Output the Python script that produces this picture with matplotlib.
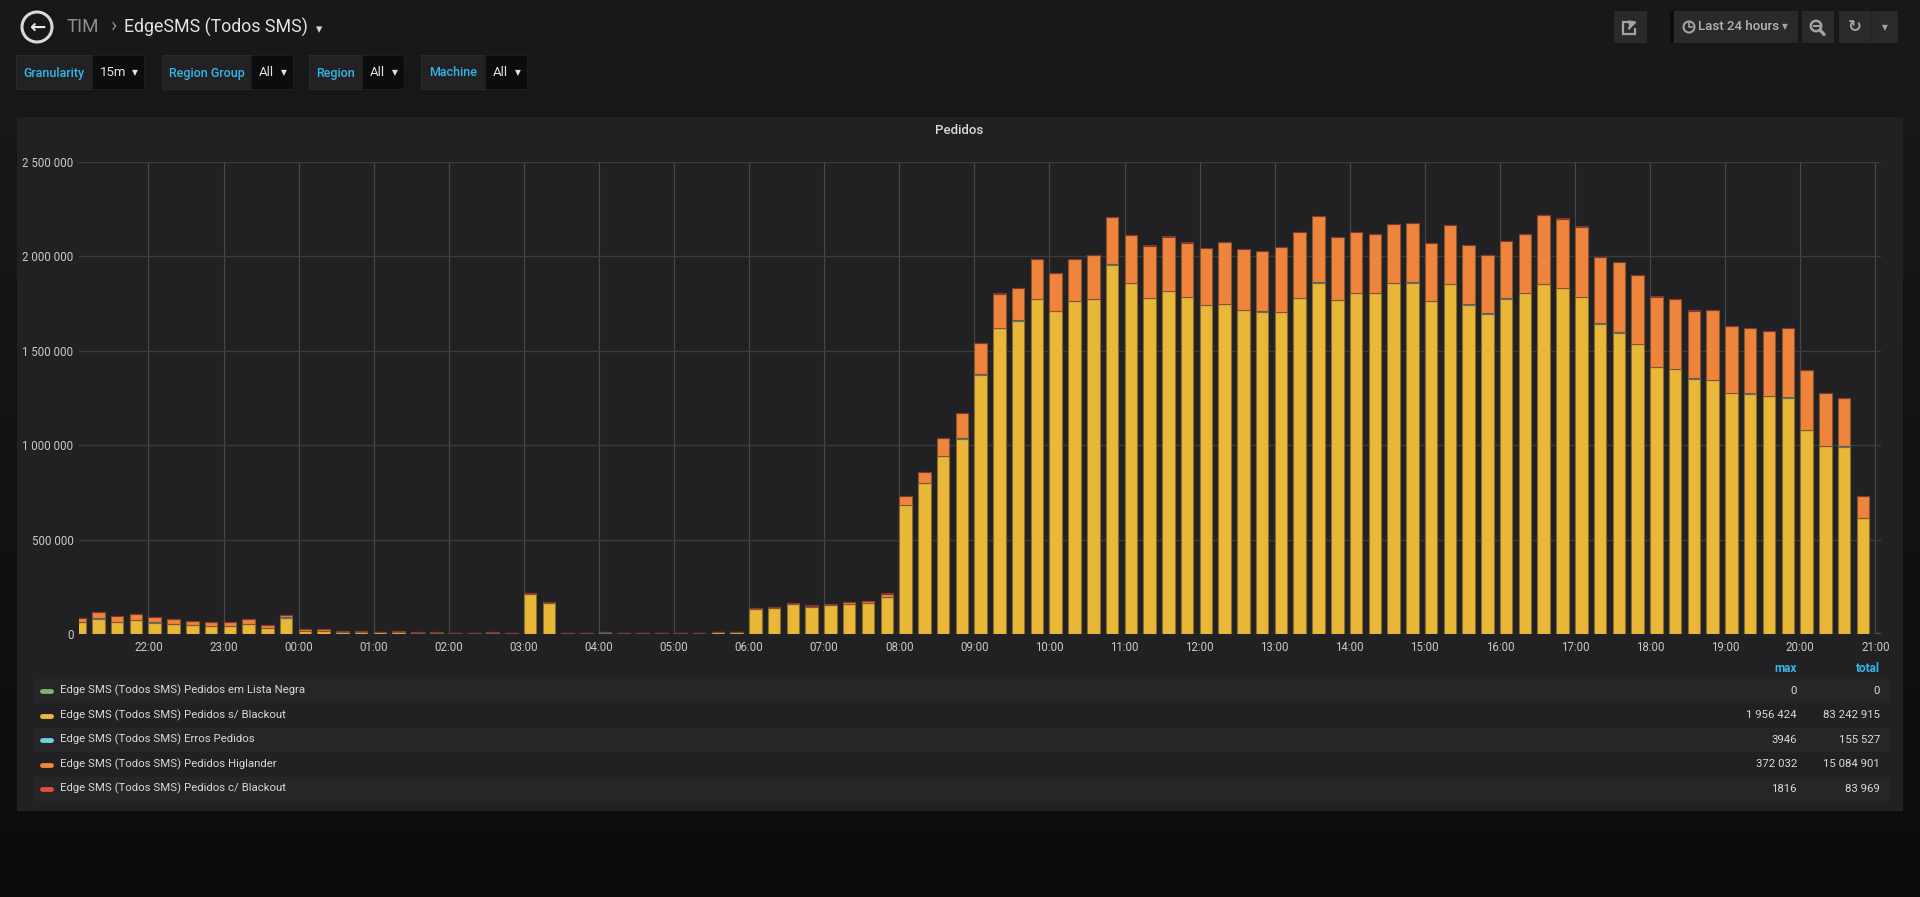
import matplotlib
matplotlib.use('Agg')
import matplotlib.pyplot as plt
import matplotlib.dates as mdates
from matplotlib.patches import Rectangle, Circle
import numpy as np
import pandas as pd

# ---------------- data ----------------
start_time = '2018-03-14 21:00'
n_bars = 97  # 15m buckets from 21:00 to 21:00 next day

s_blackout = [  # Edge SMS (Todos SMS) Pedidos s/ Blackout
    63500, 83000, 65000, 76000, 62000, 56000, 49000, 44000, 44000, 55000, 33500, 88000,
    17600, 17600, 12000, 14000, 12000, 14000, 9000, 9000, 7000, 7000, 9000, 8000,
    213000, 167600, 5300, 5300, 10000, 8800, 7000, 7000, 7000, 8800, 10600, 12300,
    136000, 138000, 159000, 143000, 153000, 159000, 166000, 199000,
    686000, 801000, 943000, 1036000, 1375000, 1621000, 1660000, 1775000,
    1711000, 1764000, 1773000, 1956424, 1858000, 1778000, 1815000, 1783000,
    1743000, 1748000, 1716000, 1708000, 1706000, 1778000, 1860000, 1769000,
    1806000, 1806000, 1858000, 1860000, 1764000, 1854000, 1745000, 1697000,
    1775000, 1806000, 1854000, 1831000, 1785000, 1644000, 1596000, 1536000,
    1413000, 1402000, 1354000, 1345000, 1278000, 1273000, 1259000, 1252000,
    1082000, 997000, 994000, 616000, 5000]

erros = [  # Edge SMS (Todos SMS) Erros Pedidos
    1200, 1500, 1300, 1400, 1200, 1100, 1000, 900, 900, 1100, 700, 1600,
    300, 300, 200, 200, 200, 200, 150, 150, 150, 150, 150, 150,
    400, 350, 100, 100, 150, 150, 100, 100, 100, 150, 150, 200,
    800, 900, 1000, 900, 1000, 1000, 1100, 1300,
    900, 1100, 1300, 1500, 1900, 2300, 2400, 2600,
    2500, 2600, 2700, 3946, 2800, 2700, 2800, 2700,
    2700, 2800, 2700, 2700, 2700, 2800, 2900, 2800,
    2800, 2800, 2900, 2900, 2700, 2900, 2700, 2600,
    2700, 2800, 2900, 2900, 2800, 2600, 2500, 2400,
    2200, 2200, 2100, 2100, 2000, 2000, 1900, 1900,
    1700, 1500, 1500, 900, 20]

higlander = [  # Edge SMS (Todos SMS) Pedidos Higlander
    21000, 33000, 28500, 30000, 28000, 23000, 23000, 19500, 19500, 24000, 17500, 12000,
    10400, 8900, 7000, 2000, 2000, 2000, 1600, 1600, 2000, 1500, 1600, 1000,
    4000, 3400, 300, 300, 600, 500, 400, 400, 400, 500, 600, 700,
    3000, 7000, 7000, 9000, 9000, 9000, 10000, 16000,
    43000, 55000, 97000, 134000, 166000, 180000, 171000, 208000,
    200000, 219000, 230000, 247000, 252000, 276000, 287000, 287000,
    298000, 325000, 320000, 318000, 339000, 347000, 349000, 331000,
    320000, 308000, 309000, 314000, 304000, 308000, 311000, 306000,
    302000, 308000, 362000, 366000, 370000, 350000, 370000, 361000,
    372032, 371000, 357000, 369000, 350000, 346000, 344000, 365000,
    315000, 279000, 254000, 116000, 2000]

c_blackout = [  # Edge SMS (Todos SMS) Pedidos c/ Blackout
    300, 300, 300, 300, 300, 300, 300, 300, 300, 300, 300, 300,
    100, 100, 100, 100, 100, 100, 100, 100, 100, 100, 100, 100,
    100, 100, 100, 100, 100, 100, 100, 100, 100, 100, 100, 100,
    400, 450, 500, 450, 500, 500, 550, 650,
    300, 400, 500, 600, 800, 1000, 1100, 1200,
    1200, 1300, 1300, 1500, 1500, 1500, 1600, 1600,
    1600, 1700, 1700, 1700, 1700, 1750, 1816, 1750,
    1700, 1700, 1750, 1750, 1700, 1750, 1700, 1650,
    1700, 1700, 1800, 1800, 1750, 1650, 1600, 1550,
    1400, 1400, 1350, 1350, 1300, 1300, 1250, 1250,
    1100, 1000, 1000, 600, 10]

lista_negra = [0] * n_bars  # Edge SMS (Todos SMS) Pedidos em Lista Negra

legend_names = [
    'Edge SMS (Todos SMS) Pedidos em Lista Negra',
    'Edge SMS (Todos SMS) Pedidos s/ Blackout',
    'Edge SMS (Todos SMS) Erros Pedidos',
    'Edge SMS (Todos SMS) Pedidos Higlander',
    'Edge SMS (Todos SMS) Pedidos c/ Blackout',
]
legend_colors = ['#7EB26D', '#EAB839', '#6ED0E0', '#EF843C', '#E24D42']
legend_max = ['0', '1 956 424', '3946', '372 032', '1816']
legend_total = ['0', '83 242 915', '155 527', '15 084 901', '83 969']
y_ticks = [0, 500000, 1000000, 1500000, 2000000, 2500000]

# ---------------- figure ----------------
W, H = 1920, 897
fig = plt.figure(figsize=(W / 100, H / 100), dpi=100)
FONT = ['Roboto', 'DejaVu Sans']
plt.rcParams['font.family'] = FONT

bg = fig.add_axes([0, 0, 1, 1])
bg.set_xlim(0, W)
bg.set_ylim(H, 0)
bg.axis('off')
top_c = np.array([24, 25, 27]) / 255
bot_c = np.array([11, 12, 14]) / 255
t = np.linspace(0, 1, 256)[:, None]
grad = (top_c[None, :] * (1 - t) + bot_c[None, :] * t)[:, None, :]
bg.imshow(grad, extent=[0, W, H, 0], aspect='auto', zorder=0)


def rect(x0, y0, x1, y1, fc, ec='none', lw=0, z=1):
    bg.add_patch(Rectangle((x0, y0), x1 - x0, y1 - y0, facecolor=fc,
                           edgecolor=ec, linewidth=lw, zorder=z))


# header: back button and breadcrumb
bg.add_patch(Circle((37, 27), 15, facecolor='none', edgecolor='#d8d9da', lw=2.2, zorder=2))
bg.text(37, 27.5, '←', ha='center', va='center', fontsize=14, fontweight='bold',
        color='#e8e8e8', family=['DejaVu Sans'], zorder=3)
bg.text(67, 27, 'TIM', ha='left', va='center', fontsize=13.5, color='#8e8e8e', zorder=3)
bg.text(110, 26, '›', ha='left', va='center', fontsize=15, color='#8e8e8e', zorder=3)
bg.text(124, 27, 'EdgeSMS (Todos SMS)', ha='left', va='center', fontsize=12.8,
        color='#e3e3e3', zorder=3)
bg.text(319, 30, '▾', ha='center', va='center', fontsize=9, color='#d8d9da',
        family=['DejaVu Sans'], zorder=3)

# variable selectors
vars_ = [
    ('Granularity', '15m', 16, 92, 144),
    ('Region Group', 'All', 162, 251, 293),
    ('Region', 'All', 309, 362, 404),
    ('Machine', 'All', 421, 485, 527),
]
for lab, val, x0, xm, x1 in vars_:
    rect(x0, 55, xm, 89, '#222225', ec='#2a2a2d', lw=0.8, z=1)
    rect(xm, 55, x1, 89, '#0b0c0e', ec='#1d1d20', lw=0.8, z=1)
    bg.text((x0 + xm) / 2, 73, lab, ha='center', va='center', fontsize=9,
            fontweight='medium', color='#33b5e5', zorder=3)
    bg.text(xm + 8, 73, val, ha='left', va='center', fontsize=9.5,
            color='#e3e3e3', zorder=3)
    bg.text(x1 - 9, 73, '▼', ha='center', va='center', fontsize=5.5,
            color='#e3e3e3', family=['DejaVu Sans'], zorder=3)

# top right buttons
btn = '#2a2a2c'
icon = '#a3a3a3'
rect(1614, 11, 1647, 43, btn, z=1)
bg.add_patch(Rectangle((1623, 22), 12, 12, facecolor='none', edgecolor=icon, lw=1.6, zorder=3))
rect(1629, 18, 1641, 28, btn, z=3)
bg.annotate('', xy=(1640, 21), xytext=(1628, 31),
            arrowprops=dict(arrowstyle='-|>', color=icon, lw=1.8,
                            connectionstyle='arc3,rad=-0.3', mutation_scale=9), zorder=4)

rect(1670, 11, 1674, 43, '#0b0c0e', z=1)
rect(1674, 11, 1798, 43, btn, z=1)
bg.add_patch(Circle((1689, 27), 5.5, facecolor='none', edgecolor=icon, lw=1.5, zorder=3))
bg.plot([1689, 1689, 1692], [23.5, 27, 27], color=icon, lw=1.2, zorder=3)
bg.text(1698, 27, 'Last 24 hours', ha='left', va='center', fontsize=9.5,
        fontweight='medium', color='#b3b4b5', zorder=3)
bg.text(1785, 27, '▼', ha='center', va='center', fontsize=5.5, color=icon,
        family=['DejaVu Sans'], zorder=3)

rect(1802, 11, 1834, 43, btn, z=1)
bg.add_patch(Circle((1816, 26), 5.2, facecolor='none', edgecolor=icon, lw=1.8, zorder=3))
bg.plot([1813.5, 1818.5], [26, 26], color=icon, lw=1.5, zorder=3)
bg.plot([1820, 1824], [30, 34.5], color=icon, lw=2.4, solid_capstyle='round', zorder=3)

rect(1839, 11, 1898, 43, btn, z=1)
bg.plot([1871, 1871], [11, 43], color='#232325', lw=1, zorder=2)
bg.text(1855, 27, '↻', ha='center', va='center', fontsize=12, fontweight='bold',
        color=icon, family=['DejaVu Sans'], zorder=3)
bg.text(1885, 28, '▼', ha='center', va='center', fontsize=5.5, color=icon,
        family=['DejaVu Sans'], zorder=3)

# panel
rect(17, 117, 1903, 811, '#212124', z=1)
bg.text(959, 130, 'Pedidos', ha='center', va='center', fontsize=9.5,
        fontweight='medium', color='#d8d9da', zorder=3)

# legend
bg.text(1797, 668.5, 'max', ha='right', va='center', fontsize=8.5,
        fontweight='bold', color='#33b5e5', zorder=3)
bg.text(1880, 668.5, 'total', ha='right', va='center', fontsize=8.5,
        fontweight='bold', color='#33b5e5', zorder=3)
for i, (nm, col, mx, tot) in enumerate(zip(legend_names, legend_colors, legend_max, legend_total)):
    y = 690.6 + i * 24.5
    if i % 2 == 0:
        rect(33, y - 12, 1890, y + 12, '#262629', z=1)
    bg.plot([42, 51], [y + 0.5, y + 0.5], color=col, lw=3.5,
            solid_capstyle='round', zorder=3)
    bg.text(60, y, nm, ha='left', va='center', fontsize=8.2, color='#d8d9da', zorder=3)
    bg.text(1797, y, mx, ha='right', va='center', fontsize=8.2, color='#d8d9da', zorder=3)
    bg.text(1880, y, tot, ha='right', va='center', fontsize=8.2, color='#d8d9da', zorder=3)

# ---------------- chart ----------------
ax_l, ax_r, ax_t, ax_b = 79, 1881, 162, 634.4
ax = fig.add_axes([ax_l / W, 1 - ax_b / H, (ax_r - ax_l) / W, (ax_b - ax_t) / H])
ax.set_facecolor('none')
ax.patch.set_alpha(0)

times = pd.date_range(start_time, periods=n_bars, freq='15min')
x = mdates.date2num(times.to_pydatetime())
bar_w = 10.0 / 1440.0  # grafana bar = interval / 1.5


def edge_of(c):
    c = np.array(matplotlib.colors.to_rgb(c))
    b = np.array([33, 33, 36]) / 255
    return tuple(c * 0.5 + b * 0.5)


series = [lista_negra, s_blackout, erros, higlander, c_blackout]
bottom = np.zeros(n_bars)
for vals, col in zip(series, legend_colors):
    v = np.array(vals, dtype=float)
    ax.bar(x, v, width=bar_w, bottom=bottom, align='edge', color=col,
           edgecolor=edge_of(col), linewidth=0.8, zorder=3)
    bottom = bottom + v

x0 = mdates.date2num(pd.Timestamp(start_time) + pd.Timedelta(minutes=4.5))
x1 = mdates.date2num(pd.Timestamp(start_time) + pd.Timedelta(hours=24, minutes=4.5))
ax.set_xlim(x0, x1)
ax.set_ylim(0, 2500000)
ax.set_yticks(y_ticks)
ax.set_yticklabels([f'{v:,}'.replace(',', ' ') for v in y_ticks])
ax.xaxis.set_major_locator(mdates.HourLocator())
ax.xaxis.set_major_formatter(mdates.DateFormatter('%H:%M'))
for s in ax.spines.values():
    s.set_visible(False)
ax.tick_params(axis='both', length=0, colors='#c8c9ca', labelsize=8.3)
ax.tick_params(axis='y', pad=4)
ax.tick_params(axis='x', pad=5)
ax.grid(True, axis='y', color='#3b3b3e', lw=1, zorder=0)
ax.grid(True, axis='x', color='#47474a', lw=0.9, zorder=0)
ax.set_axisbelow(True)

fig.savefig('out.png', dpi=100, facecolor='#161719')
